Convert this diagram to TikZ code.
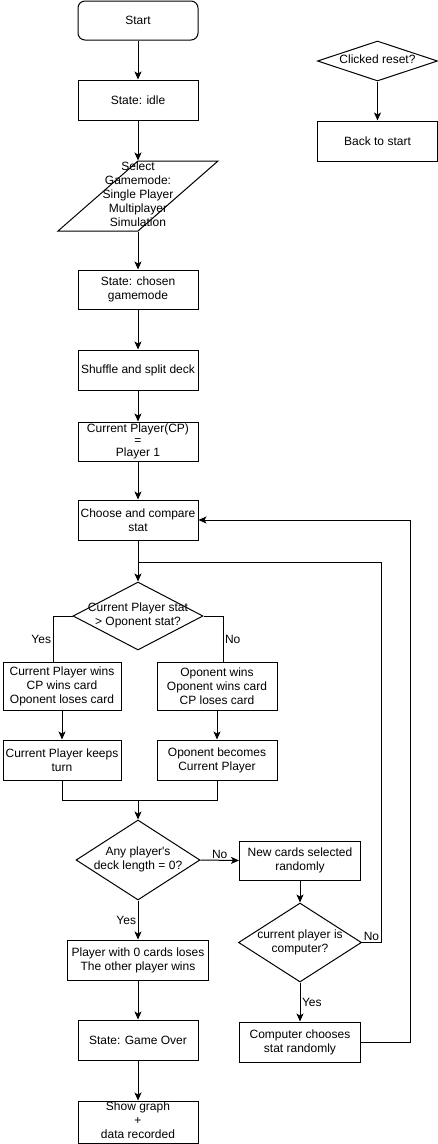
\documentclass[tikz,border=0pt]{standalone}
\usepackage{fontspec}
\setmainfont{Liberation Sans}
\usetikzlibrary{positioning,calc,arrows.meta,shapes.geometric}
\newcommand{\dtext}[1]{\makebox[0pt]{\begin{tabular}{@{}c@{}}#1\end{tabular}}}

\begin{document}
\begin{tikzpicture}[x=1pt,y=-1pt,
  every node/.style={font=\fontsize{12}{14}\selectfont},
  box/.style={draw, line width=1pt, minimum width=120, minimum height=40, align=center, inner sep=1pt},
  decision/.style={draw, diamond, line width=1pt, inner sep=0pt},
  io/.style={draw, trapezium, trapezium left angle=78, trapezium right angle=102, trapezium stretches=true, line width=1pt, minimum width=160, minimum height=70, inner sep=0pt},
  arr/.style={line width=1pt, -{Stealth[length=8pt,width=7pt,inset=2pt]}},
  ln/.style={line width=1pt},
  lab/.style={inner sep=1.5pt}]
	\useasboundingbox (0,0) rectangle (438,1144);

	% main column
	\node[box, rounded corners=7pt, minimum height=39] (start) at (138,20.5) {Start};
	\node[box] (idle) at (138,100) {State: idle};
	\node[io] (mode) at (138,196) {\dtext{Select\\Gamemode:\\Single Player\\Multiplayer\\Simulation}};
	\node[box, minimum height=39] (chosen) at (138,289.5) {State: chosen\\gamemode};
	\node[box] (shuffle) at (138,370) {Shuffle and split deck};
	\node[box, minimum height=39, font=\fontsize{12}{12}\selectfont] (cp) at (138,441.5) {Current Player(CP)\\=\\Player 1};
	\node[box] (choose) at (138,520) {Choose and compare\\stat};
	\node[decision, minimum width=130, minimum height=68] (cmp) at (138,616) {\dtext{Current Player stat\\> Oponent stat?}};

	\node[box, minimum width=118, minimum height=48] (cpwins) at (62,686) {Current Player wins\\CP wins card\\Oponent loses card};
	\node[box, minimum height=48] (oppwins) at (217,686) {Oponent wins\\Oponent wins card\\CP loses card};
	\node[box, minimum width=118] (keeps) at (62,760) {Current Player keeps\\turn};
	\node[box] (becomes) at (217,760) {Oponent becomes\\Current Player};

	\node[decision, minimum width=124, minimum height=80] (deck) at (138,860) {\dtext{Any player\textquotesingle s\\deck length = 0?}};
	\node[box, minimum width=141] (lose) at (138,960) {Player with 0 cards loses\\The other player wins};
	\node[box] (over) at (138,1040) {State: Game Over};
	\node[box, inner sep=0pt] (graph) at (138,1122) {\dtext{Show graph\\+\\data recorded}};

	% right column
	\node[box, minimum width=121, minimum height=39] (newcards) at (300,860.5) {New cards selected\\randomly};
	\node[decision, minimum width=123, minimum height=79] (comp) at (300,942.5) {\dtext{current player is\\computer?}};
	\node[box, minimum width=121] (compchoose) at (300,1042) {Computer chooses\\stat randomly};

	\node[decision, minimum width=120, minimum height=40] (reset) at (377.5,61) {\dtext{Clicked reset?}};
	\node[box] (back) at (377.5,141) {Back to start};

	\coordinate (outer) at (410,520);
	\coordinate (inner) at (381,562);
	\coordinate (merge) at (138,800);
	\coordinate (yesl) at (53,662);
	\coordinate (nor) at (223,662);

	\draw[arr] (start) -- (idle);
	\draw[arr] (idle) -- (mode);
	\draw[arr] (mode) -- (chosen);
	\draw[arr] (chosen) -- (shuffle);
	\draw[arr] (shuffle) -- (cp);
	\draw[arr] (cp) -- (choose);
	\draw[arr] (choose) -- (cmp);

	\draw[ln] (cmp.west) -| node[pos=0.75, left, lab]{Yes} (yesl);
	\draw[ln] (cmp.east) -| node[pos=0.75, right, lab]{No} (nor);
	\draw[arr] (cpwins) -- (keeps);
	\draw[arr] (oppwins) -- (becomes);
	\draw[ln] (keeps.south) |- (merge) -| (becomes.south);
	\draw[arr] (merge) -- (deck);

	\draw[arr] (deck) -- node[left, lab]{Yes} (lose);
	\draw[arr] (lose) -- (over);
	\draw[arr] (over) -- (graph);

	\draw[arr] (deck.east) -- node[above, lab]{No} (newcards.west);
	\draw[arr] (newcards) -- (comp);
	\draw[arr] (comp) -- node[right, lab]{Yes} (compchoose);
	\draw[ln] (comp.east) -| node[pos=0.25, above, lab]{No} (inner) -- (choose.south |- inner);
	\draw[arr] (compchoose.east) -| (outer) -- (choose.east);

	\draw[arr] (reset) -- (back);
\end{tikzpicture}
\end{document}
